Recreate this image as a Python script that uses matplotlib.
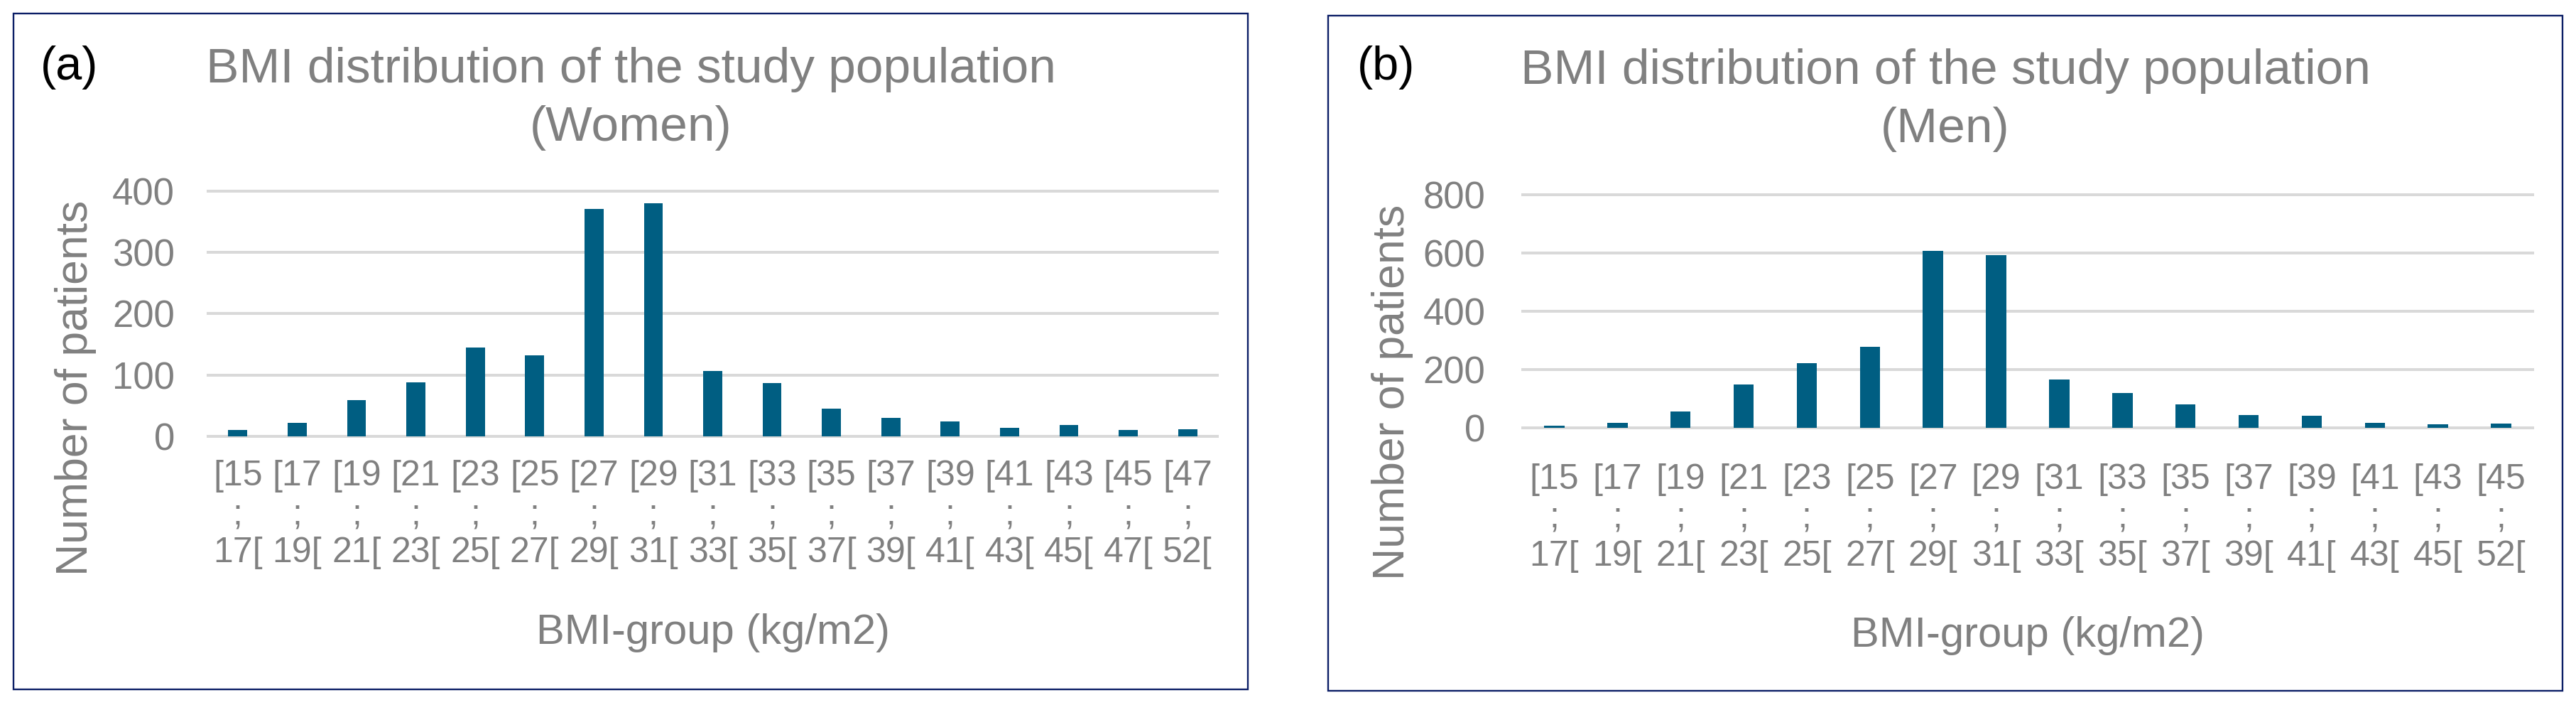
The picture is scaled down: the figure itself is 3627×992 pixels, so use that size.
import matplotlib
matplotlib.use("Agg")
import matplotlib.pyplot as plt
from matplotlib.patches import Rectangle

# ---------------- data ----------------
women_groups = ["[15 ; 17[", "[17 ; 19[", "[19 ; 21[", "[21 ; 23[", "[23 ; 25[",
                "[25 ; 27[", "[27 ; 29[", "[29 ; 31[", "[31 ; 33[", "[33 ; 35[",
                "[35 ; 37[", "[37 ; 39[", "[39 ; 41[", "[41 ; 43[", "[43 ; 45[",
                "[45 ; 47[", "[47 ; 52["]
women_counts = [10, 22, 59, 88, 145, 132, 371, 380, 107, 87, 45, 30, 24, 14, 19, 11, 12]

men_groups = ["[15 ; 17[", "[17 ; 19[", "[19 ; 21[", "[21 ; 23[", "[23 ; 25[",
              "[25 ; 27[", "[27 ; 29[", "[29 ; 31[", "[31 ; 33[", "[33 ; 35[",
              "[35 ; 37[", "[37 ; 39[", "[39 ; 41[", "[41 ; 43[", "[43 ; 45[",
              "[45 ; 52["]
men_counts = [6, 16, 55, 148, 222, 278, 606, 592, 165, 119, 80, 42, 40, 16, 11, 14]

women_yticks = [0, 100, 200, 300, 400]
men_yticks = [0, 200, 400, 600, 800]

title_main = "BMI distribution of the study population"
xlabel_text = "BMI-group (kg/m2)"
ylabel_text = "Number of patients"

# ---------------- style ----------------
W, H = 3627, 992
DPI = 100
BAR = "#005e82"
GRID = "#d9d9d9"
TXT = "#808080"
BORDER = "#0b1e66"
FONT = "Liberation Sans"
plt.rcParams["font.family"] = [FONT, "DejaVu Sans"]

fig = plt.figure(figsize=(W / DPI, H / DPI), dpi=DPI)
fig.patch.set_facecolor("white")


def fx(px):
    return px / W


def fy(py):
    return 1 - py / H


def wrap(lbl):
    a, b = lbl.split(" ; ")
    return f"{a}\n;\n{b}"


def panel(box, ax_px, groups, counts, yticks, letter, sub, letter_x,
          ylab_x, ylab_y, xlab_y, title_y1, title_y2, ypad, xpad):
    # border box
    bx0, by0, bx1, by1 = box
    fig.patches.append(Rectangle((fx(bx0), fy(by1)), fx(bx1 - bx0), (by1 - by0) / H,
                                 transform=fig.transFigure, fill=False,
                                 edgecolor=BORDER, linewidth=1.7, zorder=0))
    x0, y0, x1, y1 = ax_px
    ax = fig.add_axes([fx(x0), fy(y1), fx(x1 - x0), (y1 - y0) / H])
    xs = list(range(len(groups)))
    ax.bar(xs, counts, width=0.32, color=BAR, zorder=2)
    ax.set_xlim(-0.5, len(groups) - 0.5)
    ax.set_ylim(yticks[0], yticks[-1])
    ax.set_yticks(yticks)
    ax.set_yticklabels([str(v) for v in yticks])
    ax.set_xticks(xs)
    ax.set_xticklabels([wrap(g) for g in groups], linespacing=1.22)
    for yv in yticks:
        ax.axhline(yv, color=GRID, linewidth=2.9, zorder=1, clip_on=False)
    for s in ax.spines.values():
        s.set_visible(False)
    ax.tick_params(axis="both", length=0, colors=TXT)
    ax.tick_params(axis="y", labelsize=38, pad=ypad)
    ax.tick_params(axis="x", labelsize=36, pad=xpad)
    for t in ax.get_xticklabels() + ax.get_yticklabels():
        t.set_fontfamily(FONT)
    cx_box = (bx0 + bx1) / 2
    fig.text(fx(cx_box), fy(title_y1), title_main, ha="center", va="baseline",
             fontsize=50, color=TXT)
    fig.text(fx(cx_box), fy(title_y2), sub, ha="center", va="baseline",
             fontsize=50, color=TXT)
    fig.text(fx(letter_x), fy(112), letter, ha="left", va="baseline",
             fontsize=48, color="black")
    fig.text(fx(ylab_x), fy(ylab_y), ylabel_text, rotation=90, ha="center",
             va="center", fontsize=45, color=TXT)
    fig.text(fx((x0 + x1) / 2), fy(xlab_y), xlabel_text, ha="center",
             va="baseline", fontsize=43, color=TXT)
    return ax


panel((19, 19, 1757, 970), (293, 268.7, 1714, 614), women_groups, women_counts,
      women_yticks, "(a)", "(Women)", 57, 106, 546, 906, 116, 198, 34, 24)
panel((1870, 22, 3608, 972), (2144, 273.7, 3566, 601.7), men_groups, men_counts,
      men_yticks, "(b)", "(Men)", 1911, 1960, 552, 910, 118, 200, 38, 36)

fig.savefig("out.png", dpi=DPI, facecolor="white")
